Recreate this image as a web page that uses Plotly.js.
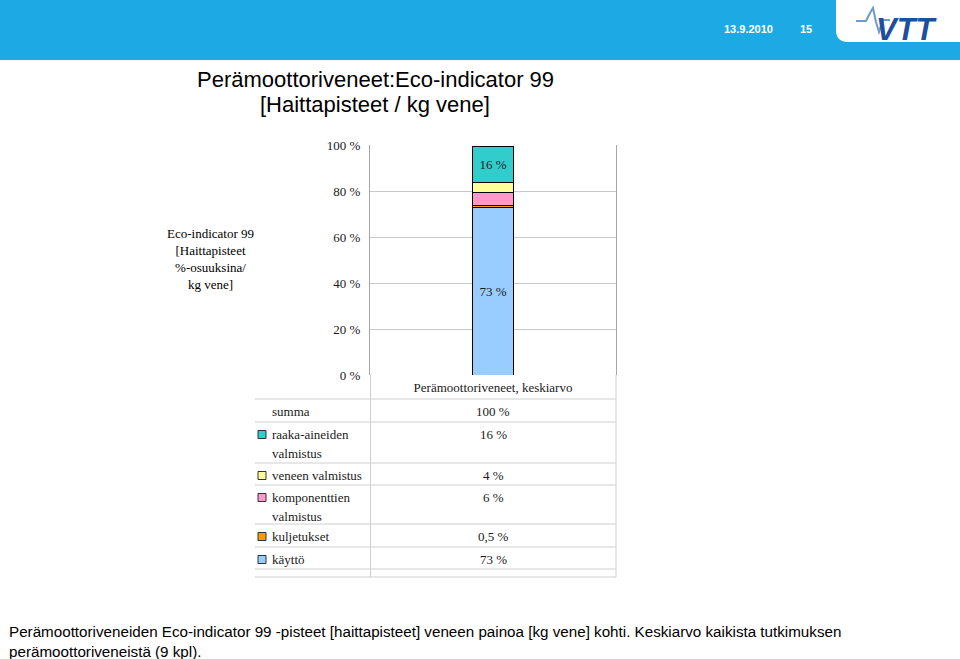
<!DOCTYPE html>
<html>
<head>
<meta charset="utf-8">
<script src="https://cdn.plot.ly/plotly-3.0.1.min.js"></script>
<style>html,body{margin:0;padding:0;background:#fff;}#chart{width:960px;height:659px;}</style>
</head>
<body>
<div id="chart"></div>
<script>
// ---- data ----
const categories = ['Perämoottoriveneet, keskiarvo'];
// stacked bottom -> top
const seriesNames = ['käyttö', 'kuljetukset', 'komponenttien valmistus', 'veneen valmistus', 'raaka-aineiden valmistus'];
const kaytto = [73];
const kuljetukset = [0.5];
const komponenttien = [6];
const veneen = [4];
const raakaAineiden = [16];
const summa = [100];
const yTicks = [0, 20, 40, 60, 80, 100];
const tableLabels = ['summa', 'raaka-aineiden valmistus', 'veneen valmistus', 'komponenttien valmistus', 'kuljetukset', 'käyttö'];
const tableValues = ['100 %', '16 %', '4 %', '6 %', '0,5 %', '73 %'];
const titleLines = ['Perämoottoriveneet:Eco-indicator 99', '[Haittapisteet / kg vene]'];

// ---- styles ----
const colors = ['#99CCFF', '#FF9900', '#FF99CC', '#FFFF99', '#33CCCC'];
const serif = 'Liberation Serif, Times New Roman, serif';
const sans = 'Liberation Sans, Arial, sans-serif';
const W = 960, H = 659;
const L = 370, R = 616, T = 145, B = 375;
const px = x => (x - L) / (R - L);
const py = y => (B - y) / (B - T);

const seriesData = [kaytto, kuljetukset, komponenttien, veneen, raakaAineiden];
const traces = seriesData.map((vals, i) => ({
  type: 'bar',
  name: seriesNames[i],
  x: categories,
  y: vals,
  width: 0.167,
  marker: {color: colors[i], line: {color: '#000', width: 1}},
  text: vals.map(v => v >= 10 ? Math.round(v) + ' %' : ''),
  textposition: 'inside',
  insidetextanchor: 'middle',
  textfont: {family: serif, size: 13, color: '#1a1a1a'},
  hoverinfo: 'skip',
  cliponaxis: false
}));

const shapes = [];
const annotations = [];

// header banner
shapes.push({type: 'rect', xref: 'paper', yref: 'paper', x0: px(0), x1: px(W), y0: py(0), y1: py(60),
  fillcolor: '#1DA9E4', line: {width: 0}, layer: 'below'});
shapes.push({type: 'path', xref: 'paper', yref: 'paper',
  path: `M ${px(836)} ${py(0)} L ${px(836)} ${py(30)} Q ${px(836)} ${py(42)} ${px(848)} ${py(42)} L ${px(961)} ${py(42)} L ${px(961)} ${py(0)} Z`,
  fillcolor: '#FFFFFF', line: {width: 0}});
// logo wave
shapes.push({type: 'path', xref: 'paper', yref: 'paper',
  path: `M ${px(856)} ${py(21)} L ${px(866)} ${py(21)} L ${px(870)} ${py(13)} L ${px(873)} ${py(8)} L ${px(876)} ${py(22)} L ${px(879)} ${py(32)} L ${px(883)} ${py(20)} L ${px(890)} ${py(20)}`,
  line: {color: '#6F9BCB', width: 2}});
annotations.push({xref: 'paper', yref: 'paper', x: px(907), y: py(29), text: '<b><i>VTT</i></b>', showarrow: false,
  font: {family: sans, size: 31, color: '#1C4F9C'}, xanchor: 'center', yanchor: 'middle'});
annotations.push({xref: 'paper', yref: 'paper', x: px(748), y: py(29), text: '<b>13.9.2010</b>', showarrow: false,
  font: {family: sans, size: 11, color: '#FFFFFF'}, xanchor: 'center', yanchor: 'middle'});
annotations.push({xref: 'paper', yref: 'paper', x: px(806), y: py(29), text: '<b>15</b>', showarrow: false,
  font: {family: sans, size: 11, color: '#FFFFFF'}, xanchor: 'center', yanchor: 'middle'});

// title
titleLines.forEach((t, i) => {
  annotations.push({xref: 'paper', yref: 'paper', x: px(375), y: py(79 + i * 26), text: t,
    showarrow: false, font: {family: sans, size: 22, color: '#000'}, xanchor: 'center', yanchor: 'middle'});
});

// y title
annotations.push({xref: 'paper', yref: 'paper', x: px(210), y: py(259), text: 'Eco-indicator 99<br>[Haittapisteet<br>%-osuuksina/<br>kg vene]',
  showarrow: false, font: {family: serif, size: 13, color: '#000'}, xanchor: 'center', yanchor: 'middle', align: 'center'});

// data table
const rowTops = [399, 422, 463, 485, 524, 547, 569];
const tableBottom = 577;
const gridCol = '#CFCFCF';
[...rowTops, tableBottom].forEach(y => {
  shapes.push({type: 'line', xref: 'paper', yref: 'paper', x0: px(255), x1: px(616), y0: py(y), y1: py(y), line: {color: gridCol, width: 1}});
});
shapes.push({type: 'line', xref: 'paper', yref: 'paper', x0: px(370.5), x1: px(370.5), y0: py(375), y1: py(tableBottom), line: {color: gridCol, width: 1}});
shapes.push({type: 'line', xref: 'paper', yref: 'paper', x0: px(616), x1: px(616), y0: py(375), y1: py(tableBottom), line: {color: gridCol, width: 1}});

const labelColors = [null, colors[4], colors[3], colors[2], colors[1], colors[0]];
tableLabels.forEach((lab, i) => {
  const top = rowTops[i];
  const words = lab.split(' ');
  const lines = (lab.length > 17) ? words : [lab];
  lines.forEach((ln, j) => {
    annotations.push({xref: 'paper', yref: 'paper', x: px(270), y: py(top + 12.5 + j * 19), text: ln, showarrow: false,
      font: {family: serif, size: 13, color: '#1a1a1a'}, xanchor: 'left', yanchor: 'middle'});
  });
  if (labelColors[i]) {
    shapes.push({type: 'rect', xref: 'paper', yref: 'paper', x0: px(258), x1: px(266), y0: py(top + 8.5), y1: py(top + 16.5),
      fillcolor: labelColors[i], line: {color: '#333', width: 1}});
  }
  annotations.push({xref: 'paper', yref: 'paper', x: px(493), y: py(top + 12.5), text: tableValues[i], showarrow: false,
    font: {family: serif, size: 13, color: '#1a1a1a'}, xanchor: 'center', yanchor: 'middle'});
});

// caption
annotations.push({xref: 'paper', yref: 'paper', x: px(7), y: py(641.5),
  text: 'Perämoottoriveneiden Eco-indicator 99 -pisteet [haittapisteet] veneen painoa [kg vene] kohti. Keskiarvo kaikista tutkimuksen<br>perämoottoriveneistä (9 kpl).',
  showarrow: false, font: {family: sans, size: 15.2, color: '#000'}, xanchor: 'left', yanchor: 'middle', align: 'left'});

const layout = {
  width: W, height: H,
  margin: {l: L, r: W - R, t: T, b: H - B, pad: 0},
  paper_bgcolor: '#FFFFFF', plot_bgcolor: '#FFFFFF',
  barmode: 'stack',
  showlegend: false,
  xaxis: {
    type: 'category', range: [-0.5, 0.5], fixedrange: true,
    showgrid: false, zeroline: false, showline: false, mirror: false,
    ticks: '', ticklabelstandoff: 3,
    tickfont: {family: serif, size: 13, color: '#1a1a1a'}
  },
  yaxis: {
    range: [0, 100], tickvals: yTicks, ticktext: yTicks.map(v => v + ' %'),
    showgrid: true, gridcolor: '#C8C8C8', gridwidth: 1,
    zeroline: false, showline: true, linecolor: '#A6A6A6', linewidth: 1, mirror: true,
    ticks: '', ticklabelstandoff: 6,
    tickfont: {family: serif, size: 13, color: '#1a1a1a'}, fixedrange: true
  },
  shapes: shapes,
  annotations: annotations
};

Plotly.newPlot('chart', traces, layout, {staticPlot: true, displayModeBar: false});
</script>
</body>
</html>
